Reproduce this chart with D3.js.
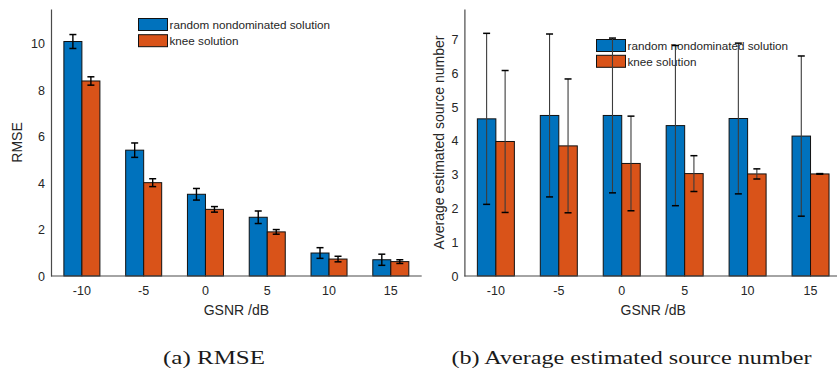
<!DOCTYPE html>
<html>
<head>
<meta charset="utf-8">
<script src="https://cdn.jsdelivr.net/npm/d3@7"></script>
<style>
  html, body { margin: 0; padding: 0; background: #fff; }
  svg { display: block; }
  .tick text { font-family: "Liberation Sans", Arial, sans-serif; font-size: 12.5px; fill: #262626; }
</style>
</head>
<body>
<svg id="fig" width="837" height="371"></svg>
<script>
// GSNR levels on the x axis
const gsnr = ["-10", "-5", "0", "5", "10", "15"];
const seriesNames = ["random nondominated solution", "knee solution"];

// (a) RMSE: mean and half-width of error bar
const rmseRand = [10.1, 5.42, 3.52, 2.53, 0.99, 0.70];
const rmseRandErr = [0.30, 0.31, 0.25, 0.27, 0.23, 0.24];
const rmseKnee = [8.40, 4.02, 2.87, 1.90, 0.73, 0.62];
const rmseKneeErr = [0.18, 0.17, 0.12, 0.10, 0.12, 0.08];

// (b) average estimated source number: mean and half-width of error bar
const numRand = [4.65, 4.75, 4.75, 4.45, 4.66, 4.14];
const numRandErr = [2.53, 2.41, 2.29, 2.37, 2.23, 2.37];
const numKnee = [3.98, 3.85, 3.33, 3.03, 3.02, 3.02];
const numKneeErr = [2.10, 1.98, 1.40, 0.53, 0.15, 0.01];

const rmseTicks = [0, 2, 4, 6, 8, 10];
const numTicks = [0, 1, 2, 3, 4, 5, 6, 7];

const colors = ["#0072BD", "#D95319"];
const svg = d3.select("#fig");

function panel(opt) {
  const g = svg.append("g");
  const x0 = d3.scaleBand().domain(gsnr)
    .range([opt.left, opt.right])
    .paddingInner(opt.pad).paddingOuter(opt.pad / 2);
  const x1 = d3.scaleBand().domain([0, 1]).range([0, x0.bandwidth()]);
  const y = d3.scaleLinear().domain([0, opt.ymax]).range([276, 9]);

  const rows = gsnr.map((c, i) => ({
    c,
    vals: [
      { s: 0, v: opt.a[i], e: opt.ae[i] },
      { s: 1, v: opt.b[i], e: opt.be[i] }
    ]
  }));

  // bars
  const grp = g.append("g").selectAll("g").data(rows).join("g")
    .attr("transform", d => `translate(${x0(d.c)},0)`);
  grp.selectAll("rect").data(d => d.vals).join("rect")
    .attr("x", d => x1(d.s))
    .attr("y", d => y(d.v))
    .attr("width", x1.bandwidth())
    .attr("height", d => y(0) - y(d.v))
    .attr("fill", d => colors[d.s])
    .attr("stroke", "#111")
    .attr("stroke-width", 1);

  // axes
  const ya = g.append("g").attr("transform", `translate(${opt.left},0)`)
    .call(d3.axisLeft(y).tickValues(opt.ticks).tickSize(0).tickPadding(6));
  ya.select(".domain").attr("stroke", "#4a4a4a").attr("stroke-width", 1.2);
  const xa = g.append("g").attr("transform", "translate(0,276)")
    .call(d3.axisBottom(x0).tickSize(0).tickPadding(10.5));
  xa.select(".domain").attr("stroke", "#4a4a4a").attr("stroke-width", 1.2)
    .attr("d", `M${opt.left},0H${opt.right}`);

  // axis titles
  g.append("text")
    .attr("x", (opt.left + opt.right) / 2).attr("y", 315)
    .attr("text-anchor", "middle")
    .style("font-family", "Liberation Sans, Arial, sans-serif")
    .style("font-size", "14px").style("fill", "#262626")
    .text("GSNR /dB");
  g.append("text")
    .attr("transform", `translate(${opt.ylabX},142.5) rotate(-90)`)
    .attr("text-anchor", "middle")
    .style("font-family", "Liberation Sans, Arial, sans-serif")
    .style("font-size", "14px").style("fill", "#262626")
    .text(opt.ylabel);

  // legend
  const lg = g.append("g");
  seriesNames.forEach((name, i) => {
    const ly = opt.legY + i * opt.legStep;
    lg.append("rect")
      .attr("x", opt.legX).attr("y", ly)
      .attr("width", 29).attr("height", 12)
      .attr("fill", colors[i]).attr("stroke", "#111").attr("stroke-width", 1);
    lg.append("text")
      .attr("x", opt.legX + 31).attr("y", ly + 10.5)
      .style("font-family", "Liberation Sans, Arial, sans-serif")
      .style("font-size", "11.7px").style("fill", "#262626")
      .text(name);
  });

  // error bars, drawn on top of everything
  const eb = g.append("g").selectAll("g").data(rows).join("g")
    .attr("transform", d => `translate(${x0(d.c)},0)`)
    .selectAll("g").data(d => d.vals).join("g");
  const cx = d => x1(d.s) + x1.bandwidth() / 2;
  eb.append("line")
    .attr("x1", cx).attr("x2", cx)
    .attr("y1", d => y(d.v + d.e)).attr("y2", d => y(d.v - d.e))
    .attr("stroke", opt.ebColor).attr("stroke-width", opt.ebWidth);
  [1, -1].forEach(sg => {
    eb.append("line")
      .attr("x1", d => cx(d) - 3.5).attr("x2", d => cx(d) + 3.5)
      .attr("y1", d => y(d.v + sg * d.e)).attr("y2", d => y(d.v + sg * d.e))
      .attr("stroke", "#000").attr("stroke-width", 1.5);
  });
}

panel({
  left: 51, right: 421.7, pad: 0.417, ymax: 11.5,
  a: rmseRand, ae: rmseRandErr, b: rmseKnee, be: rmseKneeErr,
  ticks: rmseTicks, ylabel: "RMSE", ylabX: 22,
  legX: 138.5, legY: 18.5, legStep: 16.2,
  ebColor: "#000", ebWidth: 1.4
});

panel({
  left: 464.4, right: 842, pad: 0.412, ymax: 7.9,
  a: numRand, ae: numRandErr, b: numKnee, be: numKneeErr,
  ticks: numTicks, ylabel: "Average estimated source number", ylabX: 444,
  legX: 596.5, legY: 39.5, legStep: 15.8,
  ebColor: "#3c3c3c", ebWidth: 1.1
});

// sub-figure captions
const cap = [
  { t: "(a) RMSE", x: 163, w: 102 },
  { t: "(b) Average estimated source number", x: 451.5, w: 360 }
];
svg.selectAll("text.cap").data(cap).join("text")
  .attr("class", "cap")
  .attr("x", d => d.x).attr("y", 364)
  .attr("textLength", d => d.w).attr("lengthAdjust", "spacingAndGlyphs")
  .style("font-family", "Liberation Serif, serif")
  .style("font-size", "18.5px").style("fill", "#1a1a1a")
  .text(d => d.t);
</script>
</body>
</html>
